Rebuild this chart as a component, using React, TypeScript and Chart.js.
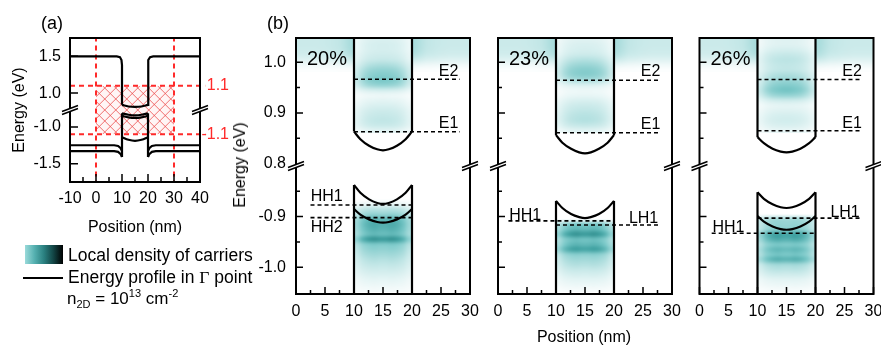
import { useEffect, useRef } from "react";
import { Chart, registerables } from "chart.js";

Chart.register(...registerables);

const W = 881;
const H = 350;
const FONT = "'Liberation Sans', Arial, Helvetica, sans-serif";

/* ---------------- panel (a): band profile ---------------- */
const aXMajor = [-10, 0, 10, 20, 30, 40];
const aXMinor = [-5, 5, 15, 25, 35];
const aYTicks = [1.5, 1.0, -1.0, -1.5];
const aYTickLabels = ["1.5", "1.0", "-1.0", "-1.5"];
const aRedLevels = [1.1, -1.1];
const aRedLevelLabels = ["1.1", "-1.1"];
const aRedPositions = [0, 30];

const aCbLeft = [[-10, 1.5], [8, 1.5], [9.2, 1.49], [9.8, 1.45], [10, 1.38], [10, 0.84]];
const aCbBottom = [[10, 0.84], [12.5, 0.818], [15, 0.812], [17.5, 0.818], [20, 0.84]];
const aCbRight = [[20, 0.84], [20, 1.38], [20.2, 1.45], [20.8, 1.49], [22, 1.5], [40, 1.5]];
const aVbTop1 = [[10, -0.815], [12.5, -0.835], [15, -0.842], [17.5, -0.835], [20, -0.815]];
const aVbTop2 = [[10, -0.85], [12.5, -0.87], [15, -0.877], [17.5, -0.87], [20, -0.85]];
const aVbWallL = [[10, -0.815], [10, -1.41]];
const aVbWallR = [[20, -0.815], [20, -1.41]];
const aVbCap = [[10, -1.14], [12.5, -1.175], [15, -1.19], [17.5, -1.175], [20, -1.14]];
const aVbOutUpL = [[-10, -1.25], [7, -1.25], [8.5, -1.26], [9.5, -1.29], [10, -1.33]];
const aVbOutLoL = [[-10, -1.33], [7, -1.33], [8.5, -1.34], [9.5, -1.37], [10, -1.41]];
const aVbOutUpR = [[20, -1.33], [20.5, -1.29], [21.5, -1.26], [23, -1.25], [40, -1.25]];
const aVbOutLoR = [[20, -1.41], [20.5, -1.37], [21.5, -1.34], [23, -1.33], [40, -1.33]];

/* ---------------- panel (b): three compositions ---------------- */
const bXMajor = [0, 5, 10, 15, 20, 25, 30];
const bXMinor = [2.5, 7.5, 12.5, 17.5, 22.5, 27.5];
const bYMajor = [1.0, 0.9, -0.9, -1.0];
const bYMajorLabels = ["1.0", "0.9", "-0.9", "-1.0"];
const bYMinor = [0.95, 0.85, -0.85, -0.95];
const bBreakLabel = "0.8";
const compositions = ["20%", "23%", "26%"];

const bowlX = [10, 11.1, 12.6, 14, 15, 16, 17.4, 18.9, 20];
const cbBowl20 = [0.863, 0.848, 0.835, 0.828, 0.826, 0.828, 0.835, 0.848, 0.863];
const cbBowl23 = [0.856, 0.841, 0.829, 0.822, 0.82, 0.822, 0.829, 0.841, 0.856];
const cbBowl26 = [0.852, 0.84, 0.829, 0.8235, 0.822, 0.8235, 0.829, 0.84, 0.852];
const vbUpper20 = [-0.8375, -0.853, -0.866, -0.873, -0.875, -0.873, -0.866, -0.853, -0.8375];
const vbLower20 = [-0.885, -0.896, -0.9055, -0.9107, -0.912, -0.9107, -0.9055, -0.896, -0.885];
const vbUpper23 = [-0.869, -0.883, -0.895, -0.901, -0.903, -0.901, -0.895, -0.883, -0.869];
const vbUpper26 = [-0.852, -0.865, -0.8756, -0.8815, -0.883, -0.8815, -0.8756, -0.865, -0.852];
const vbLower26 = [-0.899, -0.91, -0.9195, -0.9247, -0.926, -0.9247, -0.9195, -0.91, -0.899];

const levelNames20 = ["E2", "E1", "HH1", "HH2"];
const levels20 = [0.9665, 0.8626, -0.877, -0.902];
const levelSpan20 = [[10, 28.2], [10, 28.2], [2.5, 20], [2.5, 20]];
const labelAt20 = [[26.3, 0.982], [26.3, 0.878], [5.3, -0.861], [5.3, -0.922]];

const levelNames23 = ["E2", "E1", "HH1", "LH1"];
const levels23 = [0.9646, 0.8606, -0.9085, -0.9165];
const levelSpan23 = [[10, 27.7], [10, 27.7], [1.8, 20], [10, 27.7]];
const labelAt23 = [[26.3, 0.982], [26.3, 0.877], [4.7, -0.8985], [25.1, -0.904]];

const levelNames26 = ["E2", "E1", "LH1", "HH1"];
const levels26 = [0.966, 0.8646, -0.903, -0.933];
const levelSpan26 = [[10, 28], [10, 28], [10, 28], [2.1, 20]];
const labelAt26 = [[26.3, 0.982], [26.3, 0.878], [25.1, -0.892], [5.0, -0.921]];

/* local density of carriers (0..1), rows top -> bottom, 0.01 eV each */
const densUpper20 = [0.2, 0.22, 0.22, 0.25, 0.3, 0.4, 0.5, 0.56, 0.6, 0.5, 0.24, 0.1, 0.14, 0.2, 0.26, 0.3, 0.32, 0.28, 0.16];
const densUpper23 = [0.17, 0.2, 0.22, 0.27, 0.37, 0.47, 0.55, 0.55, 0.42, 0.2, 0.1, 0.12, 0.2, 0.27, 0.32, 0.36, 0.37, 0.3, 0.16];
const densUpper26 = [0.17, 0.17, 0.22, 0.3, 0.34, 0.32, 0.32, 0.4, 0.47, 0.56, 0.62, 0.5, 0.27, 0.14, 0.17, 0.22, 0.24, 0.2, 0.12];
const densLower20 = [0, 0, 0.12, 0.35, 0.5, 0.7, 0.75, 0.72, 0.68, 0.85, 0.6, 0.52, 0.45, 0.38, 0.32, 0.26, 0.2, 0.14, 0.1, 0.06];
const densLower23 = [0, 0, 0, 0, 0, 0, 0.6, 0.7, 0.85, 0.65, 0.7, 0.8, 0.55, 0.45, 0.38, 0.3, 0.22, 0.15, 0.1, 0.05];
const densLower26 = [0, 0, 0, 0, 0, 0.45, 0.5, 0.55, 0.8, 0.75, 0.6, 0.68, 0.62, 0.72, 0.45, 0.35, 0.25, 0.15, 0.1, 0.05];
const wellXUpper = [0.5, 0.74, 0.9, 0.97, 1, 1, 0.97, 0.9, 0.74, 0.5];
const wellXLower = [0.62, 0.85, 0.96, 1, 0.97, 0.97, 1, 0.96, 0.85, 0.62];
const outsideBandE = [0.32, 0.32, 0.31, 0.28, 0.2, 0.09, 0.02];
const outsideXLeft = [0.85, 0.85, 0.85, 0.85, 0.87, 0.9, 0.95, 1.0, 1.15, 1.3];
const outsideXRight = [1.3, 1.15, 1.0, 0.95, 0.9, 0.87, 0.85, 0.85, 0.85, 0.85];

const densityStops = [
  [0, 255, 255, 255],
  [0.3, 198, 232, 232],
  [0.6, 122, 200, 200],
  [0.8, 62, 160, 160],
  [1.0, 26, 108, 108],
];

/* ---------------- helpers ---------------- */
const dispA = (e: number) => (e >= 0 ? e - 0.77 : e + 0.77);
const dispB = (e: number) => (e >= 0 ? e - 0.795 : e + 0.8);

const pts = (arr: number[][], disp: (e: number) => number) => arr.map(([x, e]) => ({ x, y: disp(e) }));
const curve = (xs: number[], es: number[], disp: (e: number) => number) => xs.map((x, i) => ({ x, y: disp(es[i]) }));

function ln(data: any[], extra: any = {}) {
  return {
    data,
    showLine: true,
    pointRadius: 0,
    borderColor: "#000",
    borderWidth: 2.2,
    tension: 0,
    fill: false,
    order: 1,
    ...extra,
  };
}

function cmap(v: number) {
  const s = densityStops;
  v = Math.max(0, Math.min(1, v));
  for (let k = 1; k < s.length; k++) {
    if (v <= s[k][0]) {
      const t = (v - s[k - 1][0]) / (s[k][0] - s[k - 1][0]);
      return [1, 2, 3].map((c) => Math.round(s[k - 1][c] + t * (s[k][c] - s[k - 1][c])));
    }
  }
  return s[s.length - 1].slice(1);
}

function heat(chart: any, disp: any, x0: number, x1: number, eTop: number, eBot: number, xProf: number[], eProf: number[]) {
  const { ctx, chartArea: A, scales } = chart;
  const xs = scales.x;
  const ys = scales.y;
  const nx = xProf.length;
  const ny = eProf.length;
  const off = document.createElement("canvas");
  off.width = nx;
  off.height = ny;
  const o = off.getContext("2d")!;
  const img = o.createImageData(nx, ny);
  for (let j = 0; j < ny; j++) {
    for (let i = 0; i < nx; i++) {
      const [r, g, b] = cmap(xProf[i] * eProf[j]);
      const p = (j * nx + i) * 4;
      img.data[p] = r;
      img.data[p + 1] = g;
      img.data[p + 2] = b;
      img.data[p + 3] = 255;
    }
  }
  o.putImageData(img, 0, 0);
  const L = xs.getPixelForValue(x0);
  const R = xs.getPixelForValue(x1);
  const T = ys.getPixelForValue(disp(eTop));
  const B = ys.getPixelForValue(disp(eBot));
  ctx.save();
  ctx.beginPath();
  ctx.rect(A.left, A.top, A.right - A.left, A.bottom - A.top);
  ctx.clip();
  ctx.imageSmoothingEnabled = true;
  ctx.imageSmoothingQuality = "high";
  ctx.drawImage(off, L, T, R - L, B - T);
  ctx.restore();
}

function breakMark(ctx: CanvasRenderingContext2D, x: number, y: number) {
  ctx.save();
  ctx.fillStyle = "#fff";
  ctx.beginPath();
  ctx.moveTo(x - 8, y + 4.5);
  ctx.lineTo(x + 8, y - 1.5);
  ctx.lineTo(x + 8, y - 4.5);
  ctx.lineTo(x - 8, y + 1.5);
  ctx.closePath();
  ctx.fill();
  ctx.strokeStyle = "#000";
  ctx.lineWidth = 1.5;
  ctx.beginPath();
  ctx.moveTo(x - 8, y + 4.5);
  ctx.lineTo(x + 8, y - 1.5);
  ctx.moveTo(x - 8, y + 1.5);
  ctx.lineTo(x + 8, y - 4.5);
  ctx.stroke();
  ctx.restore();
}

function frameAndTicks(chart: any, xMajor: number[], xMinor: number[], yMajor: number[], yMinor: number[], majLen: number, minLen: number) {
  const { ctx, chartArea: A, scales } = chart;
  ctx.save();
  ctx.strokeStyle = "#000";
  ctx.lineWidth = 1.5;
  ctx.beginPath();
  xMajor.forEach((v) => {
    const p = scales.x.getPixelForValue(v);
    ctx.moveTo(p, A.bottom);
    ctx.lineTo(p, A.bottom - majLen);
  });
  xMinor.forEach((v) => {
    const p = scales.x.getPixelForValue(v);
    ctx.moveTo(p, A.bottom);
    ctx.lineTo(p, A.bottom - minLen);
  });
  yMajor.forEach((v) => {
    const p = scales.y.getPixelForValue(v);
    ctx.moveTo(A.left, p);
    ctx.lineTo(A.left + majLen, p);
  });
  yMinor.forEach((v) => {
    const p = scales.y.getPixelForValue(v);
    ctx.moveTo(A.left, p);
    ctx.lineTo(A.left + minLen, p);
  });
  ctx.stroke();
  ctx.lineWidth = 2;
  ctx.strokeRect(A.left, A.top, A.right - A.left, A.bottom - A.top);
  ctx.restore();
}

/* ---------------- panel configs ---------------- */
function panelA() {
  const red = "#ff2a2a";
  const datasets: any[] = [
    ...aRedPositions.map((x) =>
      ln([{ x, y: 1.0 }, { x, y: -1.0 }], { borderColor: red, borderWidth: 2, borderDash: [5, 4], order: 2 })
    ),
    ...aRedLevels.map((e) =>
      ln([{ x: -10, y: dispA(e) }, { x: 42, y: dispA(e) }], { borderColor: red, borderWidth: 2, borderDash: [5, 4], order: 2, clip: false })
    ),
    ln(pts(aCbLeft, dispA)),
    ln(pts(aCbBottom, dispA), { tension: 0.4 }),
    ln(pts(aCbRight, dispA)),
    ln(pts(aVbTop1, dispA), { tension: 0.4 }),
    ln(pts(aVbTop2, dispA), { tension: 0.4 }),
    ln(pts(aVbWallL, dispA)),
    ln(pts(aVbWallR, dispA)),
    ln(pts(aVbCap, dispA), { tension: 0.4 }),
    ln(pts(aVbOutUpL, dispA)),
    ln(pts(aVbOutLoL, dispA)),
    ln(pts(aVbOutUpR, dispA)),
    ln(pts(aVbOutLoR, dispA)),
  ];
  return {
    padding: { left: 70, top: 38, right: W - 200, bottom: H - 182 },
    xMin: -10,
    xMax: 40,
    yMin: -0.98,
    yMax: 0.98,
    datasets,
    under: (c: any) => {
      const { ctx, scales } = c;
      const L = scales.x.getPixelForValue(aRedPositions[0]);
      const R = scales.x.getPixelForValue(aRedPositions[1]);
      const T = scales.y.getPixelForValue(dispA(aRedLevels[0]));
      const B = scales.y.getPixelForValue(dispA(aRedLevels[1]));
      ctx.save();
      ctx.beginPath();
      ctx.rect(L, T, R - L, B - T);
      ctx.clip();
      ctx.fillStyle = "rgba(255,225,225,0.35)";
      ctx.fillRect(L, T, R - L, B - T);
      ctx.strokeStyle = "rgba(235,70,70,0.85)";
      ctx.lineWidth = 0.9;
      const h = B - T;
      ctx.beginPath();
      for (let k = -h - 11; k < R - L + h; k += 11) {
        ctx.moveTo(L + k, T);
        ctx.lineTo(L + k + h, B);
        ctx.moveTo(L + k, B);
        ctx.lineTo(L + k + h, T);
      }
      ctx.stroke();
      ctx.restore();
    },
    over: (c: any) => {
      const { ctx, chartArea: A, scales } = c;
      frameAndTicks(c, aXMajor, aXMinor, aYTicks.map(dispA), [], 8, 5);
      ctx.save();
      ctx.fillStyle = "#000";
      ctx.font = `16px ${FONT}`;
      ctx.textAlign = "center";
      ctx.textBaseline = "middle";
      aXMajor.forEach((v) => ctx.fillText(String(v), scales.x.getPixelForValue(v), A.bottom + 17));
      ctx.textAlign = "right";
      aYTicks.forEach((e, i) => ctx.fillText(aYTickLabels[i], A.left - 9, scales.y.getPixelForValue(dispA(e))));
      ctx.fillStyle = red;
      ctx.font = `16px ${FONT}`;
      aRedLevels.forEach((e, i) => ctx.fillText(aRedLevelLabels[i], A.right + 29, scales.y.getPixelForValue(dispA(e))));
      ctx.restore();
      const yb = scales.y.getPixelForValue(0);
      breakMark(ctx, A.left, yb);
      breakMark(ctx, A.right, yb);
    },
  };
}

const subs = [
  { cb: cbBowl20, vb: [vbUpper20, vbLower20], names: levelNames20, levels: levels20, spans: levelSpan20, labels: labelAt20, dU: densUpper20, dL: densLower20 },
  { cb: cbBowl23, vb: [vbUpper23], names: levelNames23, levels: levels23, spans: levelSpan23, labels: labelAt23, dU: densUpper23, dL: densLower23 },
  { cb: cbBowl26, vb: [vbUpper26, vbLower26], names: levelNames26, levels: levels26, spans: levelSpan26, labels: labelAt26, dU: densUpper26, dL: densLower26 },
];
const subLeft = [296, 498, 699.5];
const subWidth = 174;

function panelB(idx: number) {
  const s = subs[idx];
  const yMax = 0.253;
  const yMin = -0.253;
  const datasets: any[] = [
    ...s.levels.map((e, i) =>
      ln([{ x: s.spans[i][0], y: dispB(e) }, { x: s.spans[i][1], y: dispB(e) }], { borderWidth: 1.6, borderDash: [4, 3], order: 2 })
    ),
    ln([{ x: 10, y: yMax + 0.01 }, { x: 10, y: dispB(s.cb[0]) }]),
    ln([{ x: 20, y: yMax + 0.01 }, { x: 20, y: dispB(s.cb[s.cb.length - 1]) }]),
    ln(curve(bowlX, s.cb, dispB), { cubicInterpolationMode: "monotone" }),
    ln([{ x: 10, y: yMin - 0.01 }, { x: 10, y: dispB(s.vb[0][0]) }]),
    ln([{ x: 20, y: yMin - 0.01 }, { x: 20, y: dispB(s.vb[0][s.vb[0].length - 1]) }]),
    ...s.vb.map((v) => ln(curve(bowlX, v, dispB), { cubicInterpolationMode: "monotone" })),
  ];
  const left = subLeft[idx];
  return {
    padding: { left, top: 38, right: W - left - subWidth, bottom: H - 294 },
    xMin: 0,
    xMax: 30,
    yMin,
    yMax,
    datasets,
    under: (c: any) => {
      heat(c, dispB, 10, 20, 1.05, 0.86, wellXUpper, s.dU);
      heat(c, dispB, 10, 20, -0.85, -1.05, wellXLower, s.dL);
      heat(c, dispB, 0, 10, 1.05, 0.98, outsideXLeft, outsideBandE);
      heat(c, dispB, 20, 30, 1.05, 0.98, outsideXRight, outsideBandE);
    },
    over: (c: any) => {
      const { ctx, chartArea: A, scales } = c;
      frameAndTicks(c, bXMajor, bXMinor, bYMajor.map(dispB), bYMinor.map(dispB), 7, 4);
      ctx.save();
      ctx.fillStyle = "#000";
      ctx.font = `16px ${FONT}`;
      ctx.textAlign = "center";
      ctx.textBaseline = "middle";
      bXMajor.forEach((v) => ctx.fillText(String(v), scales.x.getPixelForValue(v), A.bottom + 18));
      if (idx === 0) {
        ctx.textAlign = "right";
        bYMajor.forEach((e, i) => ctx.fillText(bYMajorLabels[i], A.left - 10, scales.y.getPixelForValue(dispB(e))));
        ctx.fillText(bBreakLabel, A.left - 10, scales.y.getPixelForValue(0) - 2);
      }
      ctx.textAlign = "center";
      s.names.forEach((n, i) =>
        ctx.fillText(n, scales.x.getPixelForValue(s.labels[i][0]), scales.y.getPixelForValue(dispB(s.labels[i][1])))
      );
      ctx.textAlign = "left";
      ctx.font = `20px ${FONT}`;
      ctx.fillText(compositions[idx], A.left + 11, scales.y.getPixelForValue(dispB(1.005)));
      ctx.restore();
      const yb = scales.y.getPixelForValue(0);
      breakMark(ctx, A.left, yb);
      breakMark(ctx, A.right, yb);
    },
  };
}

function makeConfig(p: any, key: string): any {
  return {
    type: "scatter",
    data: { datasets: p.datasets },
    options: {
      responsive: false,
      animation: false,
      events: [],
      layout: { padding: p.padding },
      plugins: { legend: { display: false }, tooltip: { enabled: false } },
      scales: {
        x: { type: "linear", min: p.xMin, max: p.xMax, display: false },
        y: { type: "linear", min: p.yMin, max: p.yMax, display: false },
      },
    },
    plugins: [
      {
        id: "decor" + key,
        beforeDatasetsDraw: (c: any) => p.under && p.under(c),
        afterDatasetsDraw: (c: any) => p.over(c),
      },
    ],
  };
}

function PanelCanvas({ make, id }: { make: () => any; id: string }) {
  const ref = useRef<HTMLCanvasElement | null>(null);
  useEffect(() => {
    const chart = new Chart(ref.current!, makeConfig(make(), id));
    return () => chart.destroy();
  }, []);
  return (
    <canvas
      ref={ref}
      width={W}
      height={H}
      style={{ position: "absolute", left: 0, top: 0, width: W, height: H }}
    />
  );
}

const abs = (x: number, y: number, size: number, extra: any = {}) => ({
  position: "absolute" as const,
  left: x,
  top: y,
  fontSize: size,
  lineHeight: 1,
  whiteSpace: "nowrap" as const,
  color: "#000",
  ...extra,
});

const supStyle = { fontSize: 11, verticalAlign: "baseline", position: "relative" as const, top: -7 };
const subStyle = { fontSize: 11, verticalAlign: "baseline", position: "relative" as const, top: 4 };

export default function App() {
  return (
    <div
      style={{
        position: "fixed",
        left: 0,
        top: 0,
        width: W,
        height: H,
        background: "#fff",
        overflow: "hidden",
        fontFamily: FONT,
      }}
    >
      <PanelCanvas make={panelA} id="a" />
      <PanelCanvas make={() => panelB(0)} id="b0" />
      <PanelCanvas make={() => panelB(1)} id="b1" />
      <PanelCanvas make={() => panelB(2)} id="b2" />

      <div style={abs(52, 22.5, 18, { transform: "translate(-50%,-50%)" })}>(a)</div>
      <div style={abs(278, 23, 18, { transform: "translate(-50%,-50%)" })}>(b)</div>
      <div style={abs(135, 227, 16, { transform: "translate(-50%,-50%)" })}>Position (nm)</div>
      <div style={abs(19, 110, 16, { transform: "translate(-50%,-50%) rotate(-90deg)" })}>Energy (eV)</div>
      <div style={abs(240, 165, 16, { transform: "translate(-50%,-50%) rotate(-90deg)" })}>Energy (eV)</div>
      <div style={abs(584, 337, 16, { transform: "translate(-50%,-50%)" })}>Position (nm)</div>

      <div
        style={{
          position: "absolute",
          left: 25,
          top: 245,
          width: 38,
          height: 19,
          background: "linear-gradient(to right, #9adada 0%, #55b0b0 25%, #2a8080 50%, #124444 75%, #000 100%)",
        }}
      />
      <div style={abs(68, 255.5, 17.5, { transform: "translateY(-50%)" })}>Local density of carriers</div>
      <div style={{ position: "absolute", left: 23, top: 277, width: 40, height: 2.2, background: "#000" }} />
      <div style={abs(68, 278, 17.5, { transform: "translateY(-50%)" })}>
        Energy profile in <span style={{ fontFamily: "'Liberation Serif', 'Times New Roman', serif" }}>Γ</span> point
      </div>
      <div style={abs(67, 298, 17, { transform: "translateY(-50%)" })}>
        n<span style={subStyle}>2D</span> = 10<span style={supStyle}>13</span> cm<span style={supStyle}>-2</span>
      </div>
    </div>
  );
}
